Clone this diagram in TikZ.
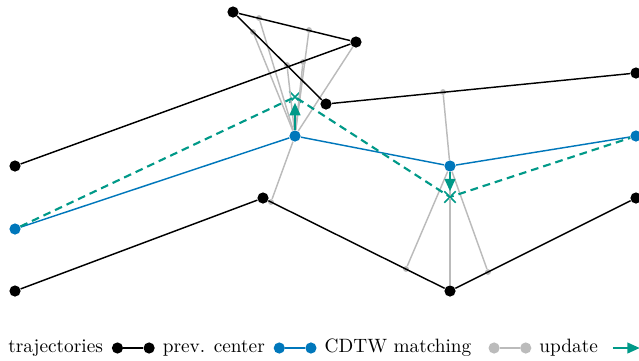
\documentclass[tikz,border=0pt]{standalone}
\usepackage{tikz}
\usepackage{xcolor}
\usetikzlibrary{positioning}
\usetikzlibrary{arrows.meta}
\usetikzlibrary{shapes.misc}
\definecolor{cblue}{HTML}{0077BB}
\definecolor{cteal}{HTML}{009988}
\definecolor{cgray}{HTML}{BBBBBB}
\tikzstyle{trajdot}=[circle, fill=black, inner sep=0pt, minimum size=5.8pt]
\tikzstyle{centerdot}=[circle, fill=cblue, inner sep=0pt, minimum size=5.8pt]
\tikzstyle{matchdot}=[circle, fill=cgray, inner sep=0pt, minimum size=3pt]
\tikzstyle{updatemark}=[cross out, draw=cteal, line width=0.9pt, inner sep=0pt, minimum size=5pt]
\tikzstyle{traj}=[draw=black, line width=0.75pt]
\tikzstyle{prevcenter}=[draw=cblue, line width=0.75pt]
\tikzstyle{matching}=[draw=cgray, line width=0.75pt]
\tikzstyle{updated}=[draw=cteal, line width=1.1pt, dash pattern=on 4pt off 2.6pt]
\tikzstyle{move}=[-{Triangle[length=6.5pt, width=5.5pt]}, draw=cteal, fill=cteal, line width=1.2pt]
\tikzstyle{legend}=[inner sep=0pt, anchor=west]

\begin{document}
\begin{tikzpicture}[x=0.518pt, y=-0.518pt]
    \useasboundingbox (0,0) rectangle (639,360);

    \node[trajdot]    (a1) at (15,166)  {};
    \node[trajdot]    (a2) at (356,42)  {};
    \node[trajdot]    (a3) at (233,12)  {};
    \node[trajdot]    (a4) at (326,104) {};
    \node[trajdot]    (a5) at (636,73)  {};
    \node[trajdot]    (b1) at (15,291)  {};
    \node[trajdot]    (b2) at (263,198) {};
    \node[trajdot]    (b3) at (450,291) {};
    \node[trajdot]    (b4) at (636,198) {};

    \node[matchdot]   (m1) at (259,18)  {};
    \node[matchdot]   (m2) at (253,32)  {};
    \node[matchdot]   (m3) at (287,65)  {};
    \node[matchdot]   (m4) at (303,62)  {};
    \node[matchdot]   (m5) at (309,30)  {};
    \node[matchdot]   (m6) at (271,202) {};
    \node[matchdot]   (m7) at (443,92)  {};
    \node[matchdot]   (m8) at (406,269) {};
    \node[matchdot]   (m9) at (488,272) {};

    \node[centerdot]  (c1) at (15,229)  {};
    \node[centerdot]  (c2) at (295,136) {};
    \node[centerdot]  (c3) at (450,166) {};
    \node[centerdot]  (c4) at (636,136) {};

    \node[updatemark] (u2) at (295,97)  {};
    \node[updatemark] (u3) at (450,197) {};

    \foreach \m in {m1, m2, m3, m4, m5, a2, m6}
        \draw[matching] (c2) -- (\m);
    \foreach \m in {m7, m8, b3, m9}
        \draw[matching] (c3) -- (\m);

    \draw[traj] (a1) -- (a2) -- (a3) -- (a4) -- (a5);
    \draw[traj] (b1) -- (b2) -- (b3) -- (b4);
    \draw[prevcenter] (c1) -- (c2) -- (c3) -- (c4);
    \draw[updated] (c1) -- (u2.center) -- (u3.center) -- (c4);

    \draw[move] (c2) to (u2);
    \draw[move] (c3) to (u3);

    \node[legend]    (ltraj)  at (8,348)          {trajectories};
    \node[trajdot]   (ltrajA) [right=4.2pt of ltraj]   {};
    \node[trajdot]   (ltrajB) [right=10.2pt of ltrajA] {};
    \node[legend]    (lprev)  [right=3.8pt of ltrajB]  {prev. center};
    \node[centerdot] (lprevA) [right=4.2pt of lprev]   {};
    \node[centerdot] (lprevB) [right=10.2pt of lprevA] {};
    \node[legend]    (lmatch) [right=3.8pt of lprevB]  {CDTW matching};
    \node[centerdot, fill=cgray] (lmatchA) [right=8.5pt of lmatch] {};
    \node[centerdot, fill=cgray] (lmatchB) [right=10.2pt of lmatchA] {};
    \node[legend]    (lupd)   [right=3.8pt of lmatchB] {update};
    \coordinate[right=7.5pt of lupd]  (lupdA);
    \coordinate[right=14pt of lupdA]  (lupdB);

    \draw[traj] (ltrajA) -- (ltrajB);
    \draw[prevcenter] (lprevA) -- (lprevB);
    \draw[matching] (lmatchA) -- (lmatchB);
    \draw[move] (lupdA) -- (lupdB);
\end{tikzpicture}
\end{document}
